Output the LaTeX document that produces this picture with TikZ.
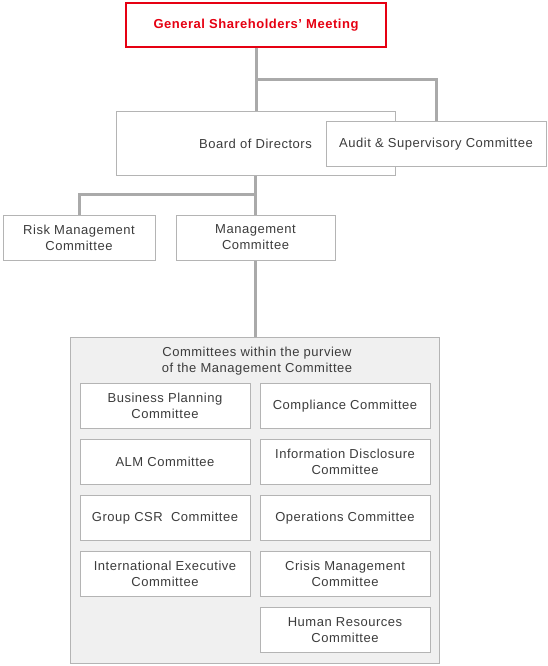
\documentclass[tikz,border=0pt]{standalone}
\usepackage{fontspec}
\setmainfont{Liberation Sans}[LetterSpace=4.0]
\usepackage{xcolor}
\definecolor{meeting-red}{HTML}{E60012}
\definecolor{line-gray}{HTML}{AAAAAA}
\definecolor{box-gray}{HTML}{B4B4B4}
\definecolor{panel-bg}{HTML}{F0F0F0}
\definecolor{text-gray}{HTML}{3C3C3C}

\tikzset{
  orgbox/.style={draw=box-gray, line width=1pt, fill=white, align=center,
                 inner sep=0pt, text=text-gray},
  link/.style={draw=line-gray, line width=3pt}
}

\begin{document}
\begin{tikzpicture}[x=1pt, y=-1pt,
      every node/.style={font=\fontsize{13}{16}\selectfont}]
    \useasboundingbox (0,0) rectangle (548,666);
    % top level
    \node[draw=meeting-red, line width=1.3pt, fill=white, inner sep=0pt,
          minimum width=260pt, minimum height=44pt, text=meeting-red,
          font=\fontsize{13}{16}\selectfont\bfseries]
          (gsm) at (256,25) {General Shareholders’ Meeting};
    \node[orgbox, minimum width=279pt, minimum height=63pt]
          (board) at (255.5,143.5) {Board of Directors};
    \node[orgbox, minimum width=220pt, minimum height=44pt]
          (audit) at (436,144) {Audit \& Supervisory Committee};
    \node[orgbox, minimum width=152pt, minimum height=45pt]
          (risk) at (79,237.5) {Risk Management\\Committee};
    \node[orgbox, minimum width=159pt, minimum height=45pt]
          (mgmt) at (255.5,237.5) {Management\\Committee};
    \draw[link] (gsm.south) -- (gsm.south |- board.north);
    \draw[link] (gsm.south |- 0,80) -| (audit.north);
    \draw[link] (board.south) -- (board.south |- mgmt.north);
    \draw[link] (board.south |- 0,194) -| (risk.north);
    % panel of committees under the management committee
    \node[draw=box-gray, line width=1pt, fill=panel-bg, inner sep=0pt,
          minimum width=369pt, minimum height=326pt]
          (purview) at (254.5,500) {};
    \draw[link] (mgmt.south) -- (mgmt.south |- purview.north);
    \node[align=center, text=text-gray, inner sep=0pt] (title) at (257,361)
          {Committees within the purview\\of the Management Committee};
    \node[orgbox, minimum width=170pt, minimum height=45pt]
          (bizplan) at (165,406) {Business Planning\\Committee};
    \node[orgbox, minimum width=170pt, minimum height=45pt]
          (alm) at (165,462) {ALM Committee};
    \node[orgbox, minimum width=170pt, minimum height=45pt]
          (csr) at (165,518) {Group CSR\ \ Committee};
    \node[orgbox, minimum width=170pt, minimum height=45pt]
          (intl) at (165,574) {International Executive\\Committee};
    \node[orgbox, minimum width=170pt, minimum height=45pt]
          (compl) at (345,406) {Compliance Committee};
    \node[orgbox, minimum width=170pt, minimum height=45pt]
          (disclose) at (345,462) {Information Disclosure\\Committee};
    \node[orgbox, minimum width=170pt, minimum height=45pt]
          (ops) at (345,518) {Operations Committee};
    \node[orgbox, minimum width=170pt, minimum height=45pt]
          (crisis) at (345,574) {Crisis Management\\Committee};
    \node[orgbox, minimum width=170pt, minimum height=45pt]
          (hr) at (345,630) {Human Resources\\Committee};
  \end{tikzpicture}
\end{document}
